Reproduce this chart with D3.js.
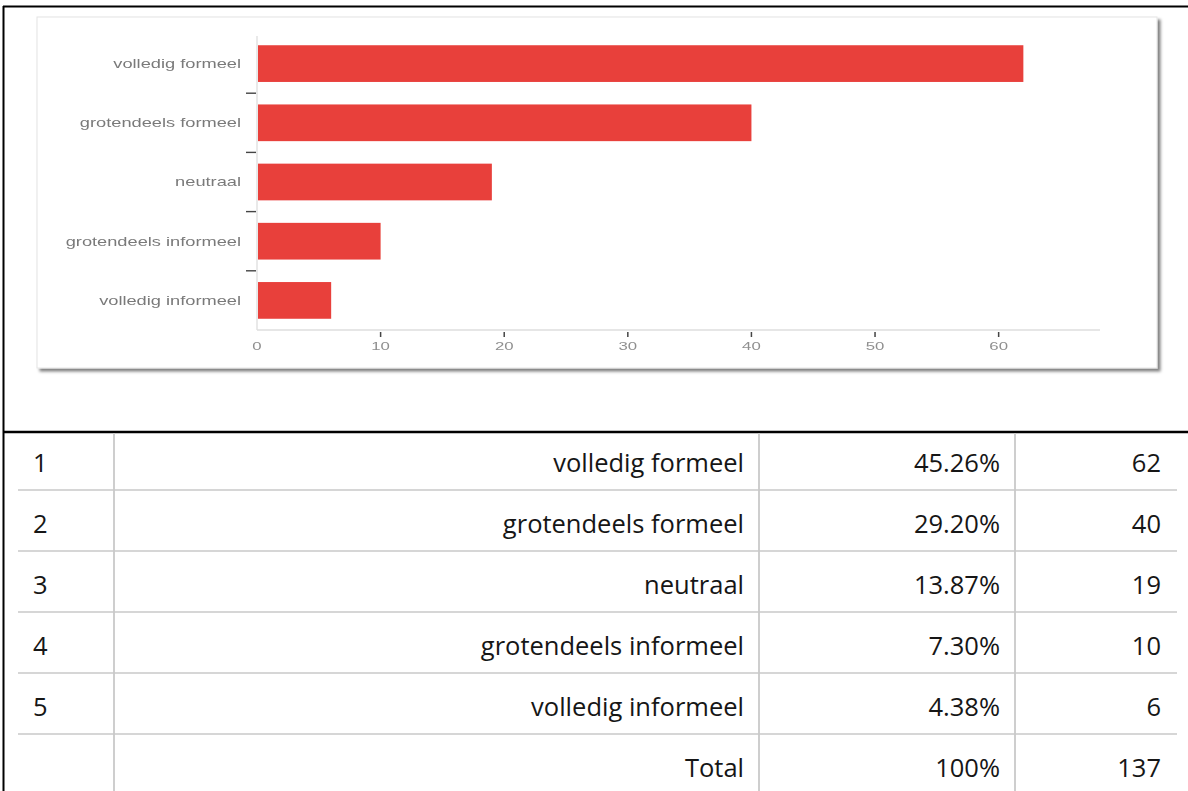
<!DOCTYPE html>
<html>
<head>
<meta charset="utf-8">
<script src="https://cdn.jsdelivr.net/npm/d3@7"></script>
<style>
  html, body { margin: 0; padding: 0; background: #fff; }
  svg { display: block; }
</style>
</head>
<body>
<svg id="page" width="1188" height="791"></svg>
<script>
// Survey answers: register of formality
const categories = ["volledig formeel", "grotendeels formeel", "neutraal", "grotendeels informeel", "volledig informeel"];
const counts = [62, 40, 19, 10, 6];
const percentLabels = ["45.26%", "29.20%", "13.87%", "7.30%", "4.38%"];
const xTicks = [0, 10, 20, 30, 40, 50, 60];
const totalLabel = "Total";
const totalPercent = "100%";
const totalCount = 137;

const svg = d3.select("#page");
const defs = svg.append("defs");

// Outer frame (left and top rule)
svg.append("line").attr("x1", 3.5).attr("x2", 3.5).attr("y1", 6).attr("y2", 791)
  .attr("stroke", "#000").attr("stroke-width", 2);
svg.append("line").attr("x1", 3).attr("x2", 1188).attr("y1", 6.5).attr("y2", 6.5)
  .attr("stroke", "#000").attr("stroke-width", 2);

// ---------- Chart card ----------
const shadow = defs.append("filter").attr("id", "cardShadow")
  .attr("x", "-5%").attr("y", "-5%").attr("width", "110%").attr("height", "115%");
shadow.append("feDropShadow").attr("dx", 3).attr("dy", 3).attr("stdDeviation", 1.5)
  .attr("flood-color", "#000").attr("flood-opacity", 0.5);

// the embedded chart is a soft, slightly blurred bitmap
defs.append("filter").attr("id", "soft")
  .append("feGaussianBlur").attr("stdDeviation", 0.55);

svg.append("rect").attr("x", 37).attr("y", 17).attr("width", 1120).attr("height", 351)
  .attr("fill", "#fff").attr("stroke", "#e4e4e4").attr("stroke-width", 1)
  .attr("filter", "url(#cardShadow)");

const chart = svg.append("g").attr("filter", "url(#soft)");

const plot = { left: 257, right: 1100, top: 34, bottom: 330 };

const x = d3.scaleLinear().domain([0, d3.max(counts) * 1.1]).range([plot.left, plot.right]);
const y = d3.scaleBand().domain(categories).range([plot.top, plot.bottom]).paddingInner(0.38).paddingOuter(0.19);

const labelFont = "Liberation Sans, Arial, sans-serif";

// axis lines
chart.append("line").attr("x1", plot.left).attr("x2", plot.left).attr("y1", plot.top + 2).attr("y2", plot.bottom)
  .attr("stroke", "#dedede").attr("stroke-width", 1.3);
chart.append("line").attr("x1", plot.left).attr("x2", x(x.domain()[1]))
  .attr("y1", plot.bottom).attr("y2", plot.bottom)
  .attr("stroke", "#dedede").attr("stroke-width", 1.3);

// bars
chart.append("g").selectAll("rect").data(categories).join("rect")
  .attr("x", x(0) + 1)
  .attr("y", d => y(d))
  .attr("width", (d, i) => x(counts[i]) - x(0) - 1)
  .attr("height", y.bandwidth())
  .attr("fill", "#e83f3b");

// category labels (wide lettering)
chart.append("g").selectAll("text").data(categories).join("text")
  .attr("transform", d => `translate(241,${y(d) + y.bandwidth() / 2 + 4.3}) scale(1.46,1)`)
  .attr("text-anchor", "end")
  .attr("font-family", labelFont).attr("font-size", 12.5)
  .attr("fill", "#7a7a7a")
  .text(d => d);

// separator ticks between categories
const gap = (y.step() - y.bandwidth()) / 2;
chart.append("g").selectAll("line").data(categories.slice(1)).join("line")
  .attr("x1", 246).attr("x2", 256)
  .attr("y1", d => y(d) - gap)
  .attr("y2", d => y(d) - gap)
  .attr("stroke", "#444").attr("stroke-width", 1.4);

// x ticks and labels
chart.append("g").selectAll("line").data(xTicks.filter(t => t > 0)).join("line")
  .attr("x1", d => x(d)).attr("x2", d => x(d))
  .attr("y1", plot.bottom + 2).attr("y2", plot.bottom + 7)
  .attr("stroke", "#444").attr("stroke-width", 1.5);
chart.append("g").selectAll("text").data(xTicks).join("text")
  .attr("transform", d => `translate(${x(d)},${plot.bottom + 19.5}) scale(1.6,1)`)
  .attr("text-anchor", "middle")
  .attr("font-family", labelFont).attr("font-size", 10.5)
  .attr("fill", "#8f8f8f")
  .text(d => d);

// ---------- Table ----------
svg.append("line").attr("x1", 3).attr("x2", 1188).attr("y1", 432).attr("y2", 432)
  .attr("stroke", "#000").attr("stroke-width", 2.5);

const rowKeys = d3.range(categories.length + 1);
const row = d3.scaleBand().domain(rowKeys).range([429, 429 + rowKeys.length * 61]);
const gridColor = "#c9c9c9";

// row separators
svg.append("g").selectAll("line").data(rowKeys.slice(0, -1)).join("line")
  .attr("x1", 18).attr("x2", 1177)
  .attr("y1", d => row(d) + row.step()).attr("y2", d => row(d) + row.step())
  .attr("stroke", gridColor).attr("stroke-width", 1.5);

// column separators
const colEdges = [114, 759, 1015];
svg.append("g").selectAll("line").data(colEdges).join("line")
  .attr("x1", d => d).attr("x2", d => d).attr("y1", 433).attr("y2", 791)
  .attr("stroke", gridColor).attr("stroke-width", 1.8);

const tableFont = "'Open Sans', 'Noto Sans', sans-serif";
const cells = rowKeys.map(i => i < categories.length
  ? { idx: String(i + 1), name: categories[i], pct: percentLabels[i], n: String(counts[i]) }
  : { idx: "", name: totalLabel, pct: totalPercent, n: String(totalCount) });

const rowsG = svg.append("g").attr("font-family", tableFont).attr("font-size", 25.5).attr("fill", "#161616");
rowsG.selectAll("g").data(cells).join("g")
  .attr("transform", (d, i) => `translate(0,${row(i) + 43})`)
  .each(function (d) {
    const g = d3.select(this);
    g.append("text").attr("x", 33).text(d.idx);
    g.append("text").attr("x", 744).attr("text-anchor", "end").text(d.name);
    g.append("text").attr("x", 1000).attr("text-anchor", "end").text(d.pct);
    g.append("text").attr("x", 1161).attr("text-anchor", "end").text(d.n);
  });
</script>
</body>
</html>
